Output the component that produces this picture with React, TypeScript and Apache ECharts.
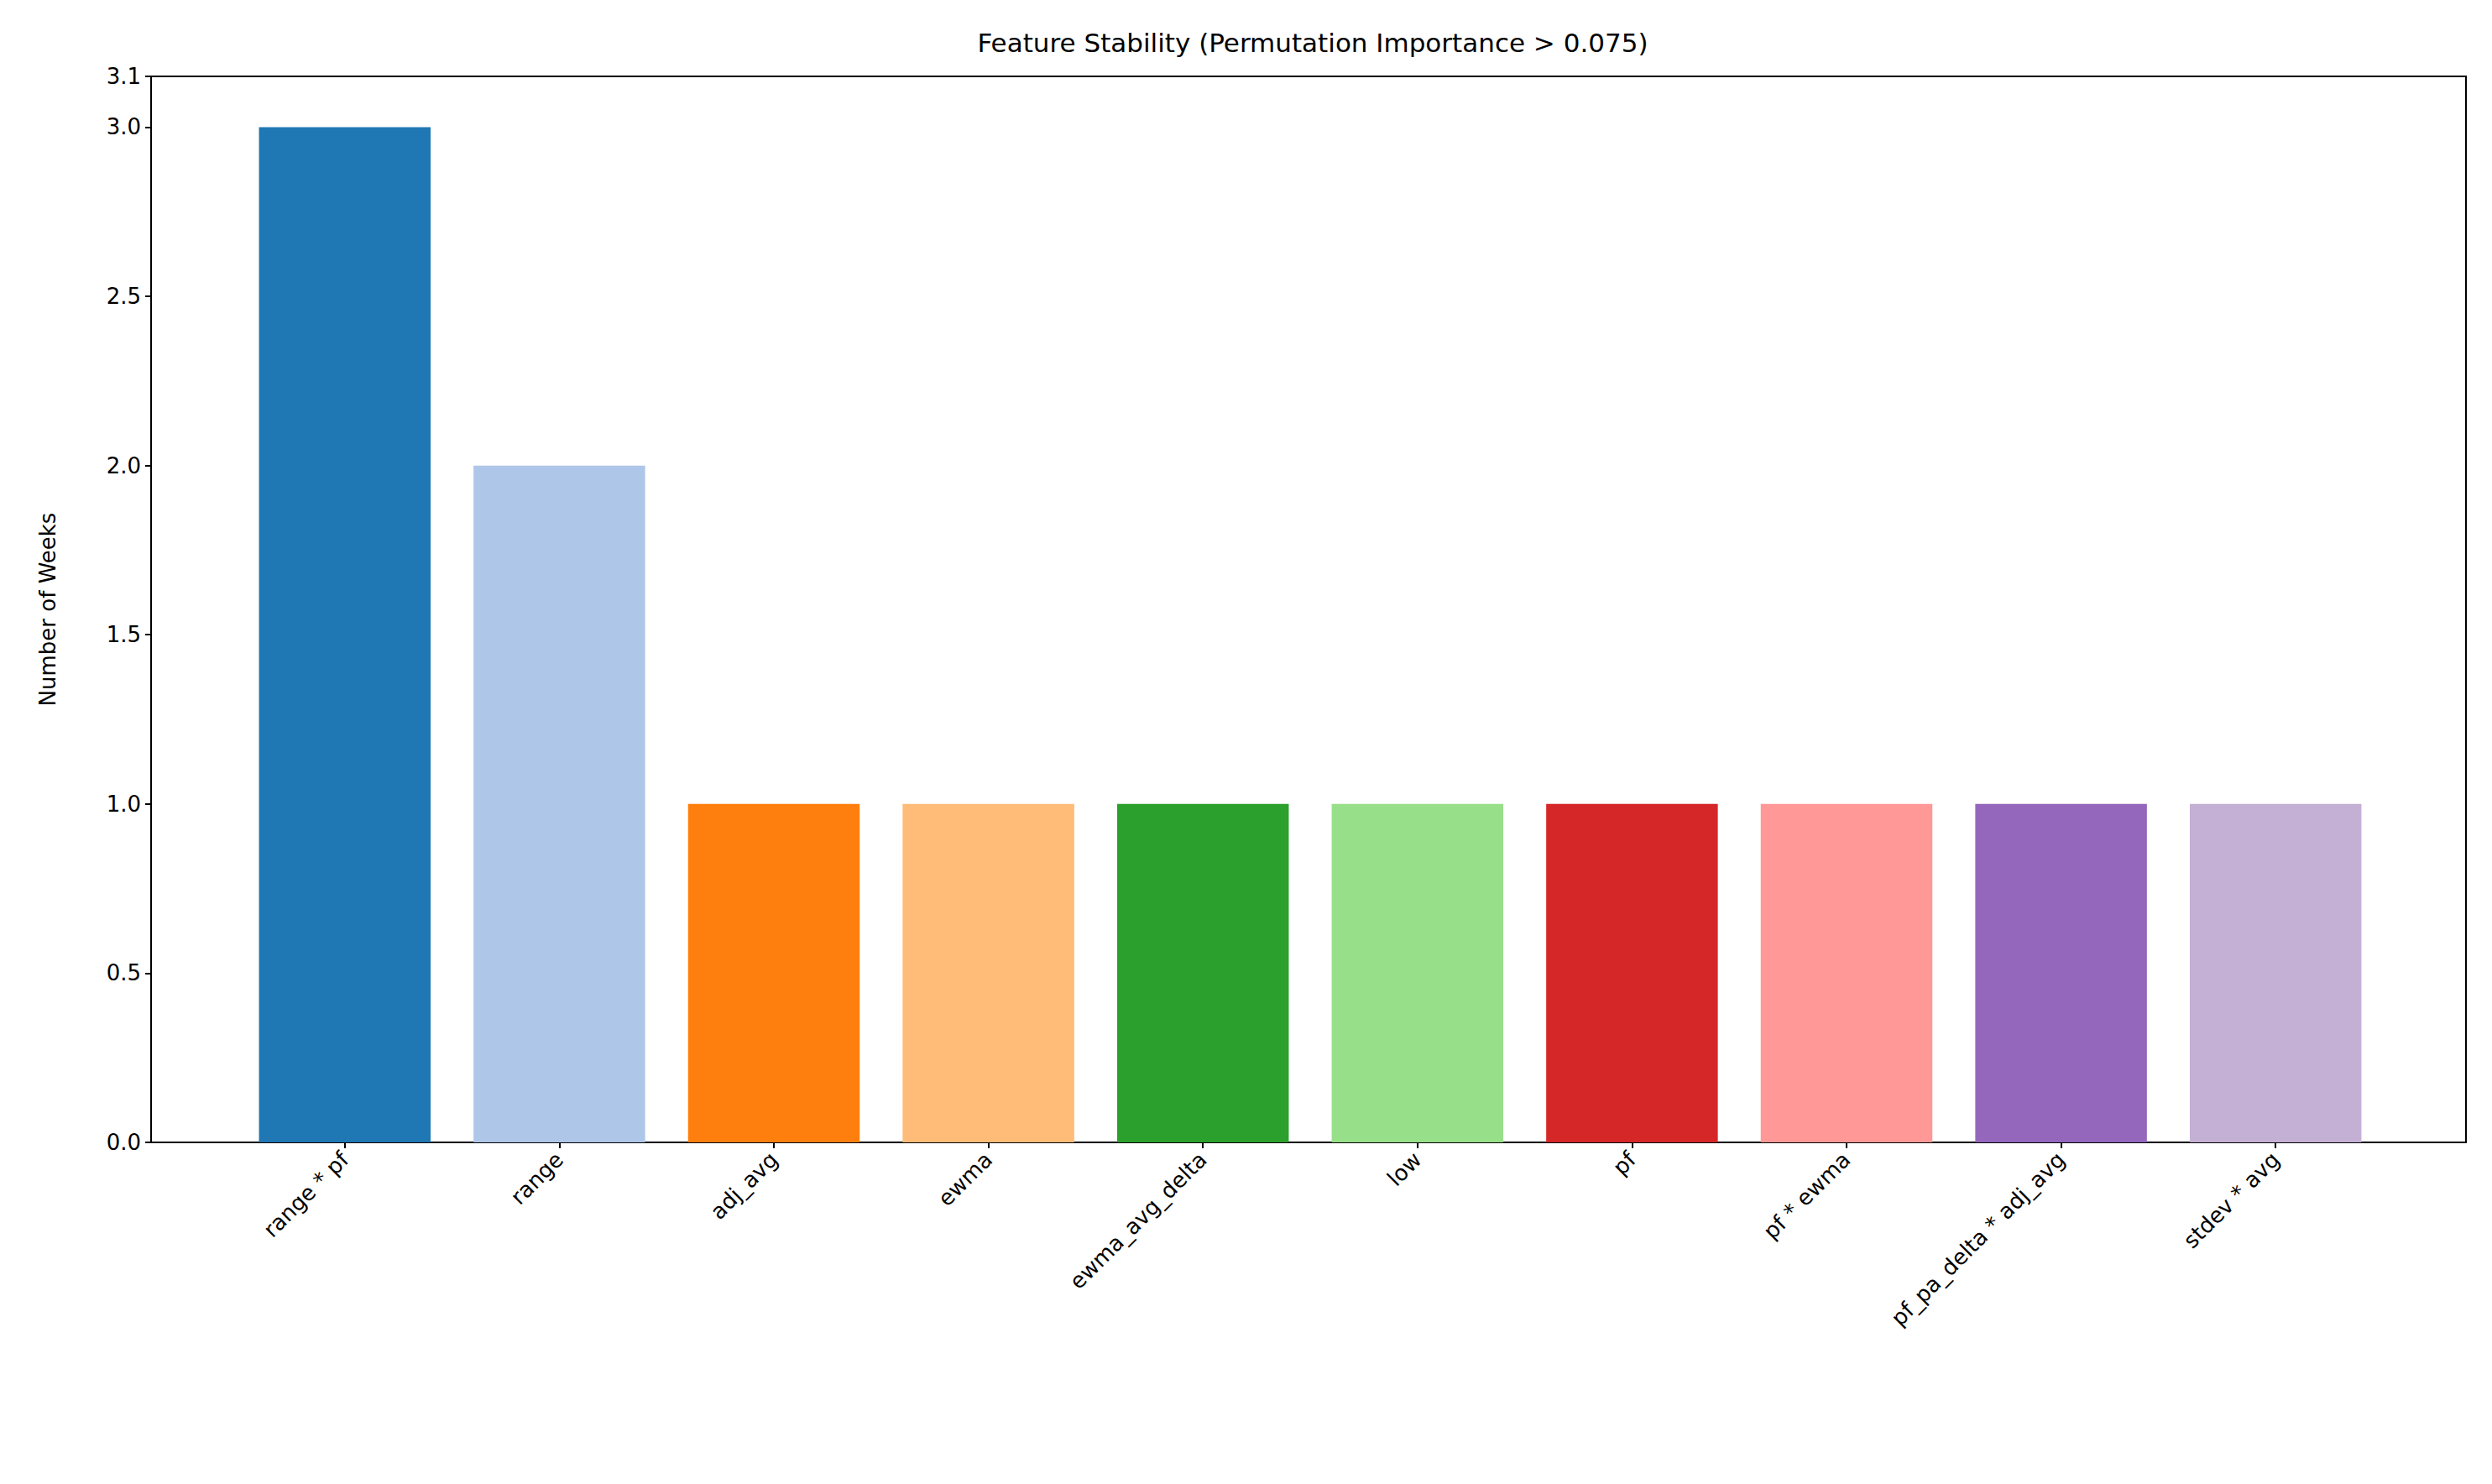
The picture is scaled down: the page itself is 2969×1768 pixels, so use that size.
import { useEffect, useRef } from "react";
import * as echarts from "echarts";

const features = ["range * pf", "range", "adj_avg", "ewma", "ewma_avg_delta", "low", "pf", "pf * ewma", "pf_pa_delta * adj_avg", "stdev * avg"];
const weeks = [3, 2, 1, 1, 1, 1, 1, 1, 1, 1];
const colors = ["#1f77b4", "#aec7e8", "#ff7f0e", "#ffbb78", "#2ca02c", "#98df8a", "#d62728", "#ff9896", "#9467bd", "#c5b0d5"];

export default function App() {
  const ref = useRef<HTMLDivElement | null>(null);

  useEffect(() => {
    if (!ref.current) return;
    const chart = echarts.init(ref.current, null, { renderer: "svg" });
    const font = "DejaVu Sans";
    chart.setOption({
      animation: false,
      backgroundColor: "#ffffff",
      textStyle: { fontFamily: font },
      title: {
        text: "Feature Stability (Permutation Importance > 0.075)",
        left: 1559, top: 30, textAlign: "center",
        textStyle: { fontFamily: font, fontSize: 31, fontWeight: "normal", color: "#000" }
      },
      grid: [
        { left: 180, right: 31, top: 91, bottom: 407, show: true, borderColor: "#000", borderWidth: 2, backgroundColor: "transparent" },
        { left: 283, right: 130, top: 91, bottom: 407 }
      ],
      xAxis: [
        { gridIndex: 0, type: "value", show: false, min: 0, max: 1 },
        {
          gridIndex: 1, type: "category", data: features,
          axisLine: { show: false },
          axisTick: { show: true, alignWithLabel: true, length: 7, lineStyle: { color: "#000", width: 2 } },
          axisLabel: { rotate: 45, fontSize: 26, color: "#000", margin: 16, interval: 0, fontFamily: font }
        }
      ],
      yAxis: [
        { gridIndex: 0, type: "value", show: false, min: 0, max: 1 },
        {
          gridIndex: 1, type: "value", min: 0, max: 3.15, interval: 0.5,
          name: "Number of Weeks", nameLocation: "middle", nameGap: 290 - 180 + 0, nameRotate: 90,
          nameTextStyle: { fontSize: 26, color: "#000", fontFamily: font },
          offset: 103,
          axisLine: { show: false },
          axisTick: { show: true, length: 7, lineStyle: { color: "#000", width: 2 } },
          axisLabel: { fontSize: 26, color: "#000", margin: 12, formatter: (v: number) => v.toFixed(1), fontFamily: font },
          splitLine: { show: false }
        }
      ],
      series: [
        {
          type: "bar", xAxisIndex: 1, yAxisIndex: 1, barWidth: "80%",
          data: weeks.map((v, i) => ({ value: v, itemStyle: { color: colors[i] } }))
        }
      ]
    });
    return () => chart.dispose();
  }, []);

  return <div ref={ref} style={{ position: "fixed", left: 0, top: 0, width: 2969, height: 1768 }} />;
}
